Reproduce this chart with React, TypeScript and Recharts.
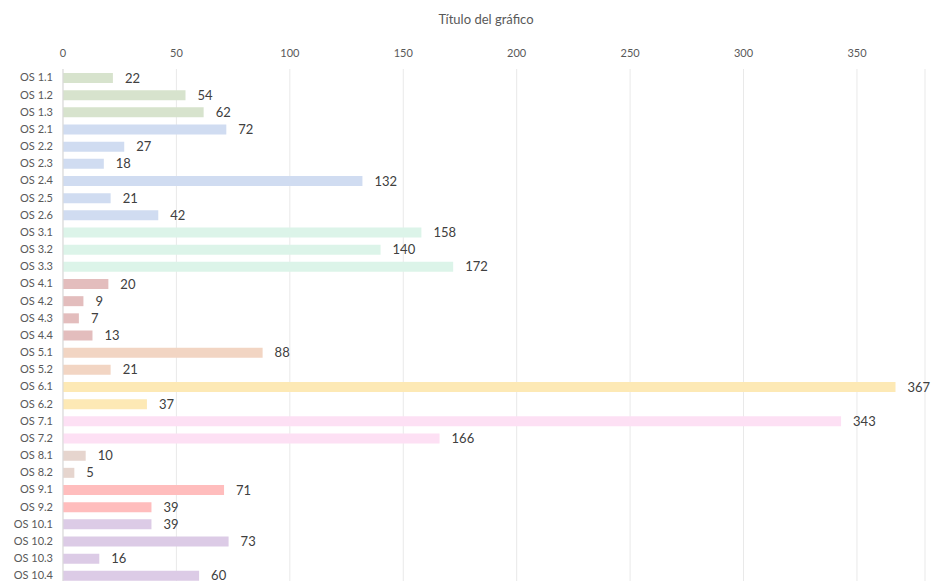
import { BarChart, Bar, XAxis, YAxis, CartesianGrid, Cell, LabelList } from 'recharts';

const categories = [
  'OS 1.1', 'OS 1.2', 'OS 1.3',
  'OS 2.1', 'OS 2.2', 'OS 2.3', 'OS 2.4', 'OS 2.5', 'OS 2.6',
  'OS 3.1', 'OS 3.2', 'OS 3.3',
  'OS 4.1', 'OS 4.2', 'OS 4.3', 'OS 4.4',
  'OS 5.1', 'OS 5.2',
  'OS 6.1', 'OS 6.2',
  'OS 7.1', 'OS 7.2',
  'OS 8.1', 'OS 8.2',
  'OS 9.1', 'OS 9.2',
  'OS 10.1', 'OS 10.2', 'OS 10.3', 'OS 10.4',
];

const values = [
  22, 54, 62,
  72, 27, 18, 132, 21, 42,
  158, 140, 172,
  20, 9, 7, 13,
  88, 21,
  367, 37,
  343, 166,
  10, 5,
  71, 39,
  39, 73, 16, 60,
];

const xTicks = [0, 50, 100, 150, 200, 250, 300, 350];

// one colour per OS group (1..10)
const groupColors = [
  '#d7e3cd', // 1
  '#d0dcf1', // 2
  '#dcf4e9', // 3
  '#e3bdbd', // 4
  '#f2d5c3', // 5
  '#fde9b5', // 6
  '#fde0f4', // 7
  '#e6d5ce', // 8
  '#ffbdbd', // 9
  '#dccbe6', // 10
];

const data = categories.map((name, i) => ({ name, value: values[i] }));

const groupOf = (name: string) => parseInt(name.replace('OS ', '').split('.')[0], 10) - 1;

const FONT = 'Lato, "Open Sans", sans-serif';

export default function App() {
  return (
    <div style={{ position: 'absolute', left: 0, top: 0, width: 935, height: 581, overflow: 'hidden', background: '#fff' }}>
      <div
        style={{
          position: 'absolute',
          top: 11,
          left: 0,
          width: 972,
          textAlign: 'center',
          fontFamily: FONT,
          fontSize: 13,
          color: '#595959',
        }}
      >
        Título del gráfico
      </div>
      <BarChart
        width={935}
        height={584}
        data={data}
        layout="vertical"
        margin={{ top: 39, right: 10, bottom: 0, left: 0 }}
      >
        <CartesianGrid horizontal={false} stroke="#e9e9e9" />
        <XAxis
          type="number"
          orientation="top"
          domain={[0, 380]}
          ticks={xTicks}
          height={30}
          axisLine={false}
          tickLine={false}
          tickMargin={6}
          tick={{ fill: '#595959', fontSize: 11, fontFamily: FONT }}
        />
        <YAxis
          type="category"
          dataKey="name"
          width={63}
          interval={0}
          axisLine={{ stroke: '#d9d9d9' }}
          tickLine={false}
          tickMargin={4}
          tick={{ fill: '#595959', fontSize: 11, fontFamily: FONT }}
        />
        <Bar dataKey="value" barSize={10} isAnimationActive={false}>
          {data.map((d) => (
            <Cell key={d.name} fill={groupColors[groupOf(d.name)]} />
          ))}
          <LabelList
            dataKey="value"
            position="right"
            offset={12}
            fill="#404040"
            fontSize={13}
            fontFamily={FONT}
          />
        </Bar>
      </BarChart>
    </div>
  );
}
